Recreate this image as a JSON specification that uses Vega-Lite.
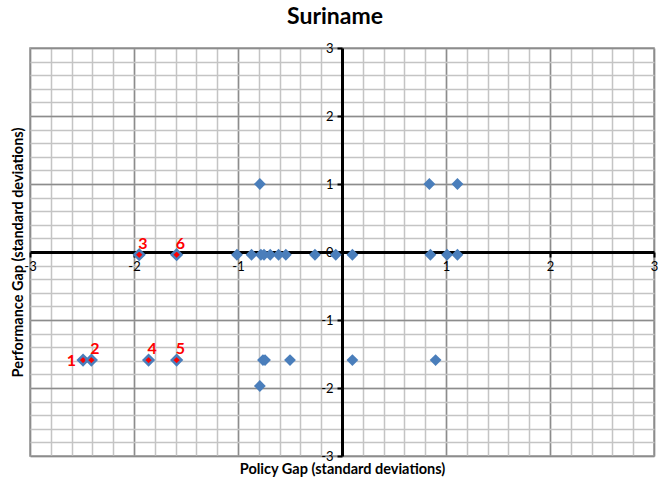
{
  "$schema": "https://vega.github.io/schema/vega-lite/v6.json",
  "width": 624,
  "height": 408,
  "autosize": {"type": "none"},
  "padding": {"left": 30, "top": 48, "right": 14, "bottom": 26},
  "background": "white",
  "title": {"text": "Suriname", "fontSize": 23, "font": "Lato", "fontWeight": "bold", "color": "black", "anchor": "middle", "offset": 13, "dx": -7},
  "config": {
    "view": {"stroke": "#8a8a8a", "strokeWidth": 1.5},
    "axis": {"labelFont": "Lato", "titleFont": "Lato"}
  },
  "data": {
    "values": [
      {"policy": -2.49, "performance": -1.59, "label": "1"},
      {"policy": -2.41, "performance": -1.59, "label": "2"},
      {"policy": -1.95, "performance": -0.04, "label": "3"},
      {"policy": -1.86, "performance": -1.59, "label": "4"},
      {"policy": -1.59, "performance": -1.59, "label": "5"},
      {"policy": -1.59, "performance": -0.04, "label": "6"},
      {"policy": -0.79, "performance": 1.0, "label": ""},
      {"policy": 0.84, "performance": 1.0, "label": ""},
      {"policy": 1.11, "performance": 1.0, "label": ""},
      {"policy": -1.01, "performance": -0.04, "label": ""},
      {"policy": -0.87, "performance": -0.04, "label": ""},
      {"policy": -0.78, "performance": -0.04, "label": ""},
      {"policy": -0.75, "performance": -0.04, "label": ""},
      {"policy": -0.69, "performance": -0.04, "label": ""},
      {"policy": -0.61, "performance": -0.04, "label": ""},
      {"policy": -0.54, "performance": -0.04, "label": ""},
      {"policy": -0.26, "performance": -0.04, "label": ""},
      {"policy": -0.06, "performance": -0.04, "label": ""},
      {"policy": 0.1, "performance": -0.04, "label": ""},
      {"policy": 0.85, "performance": -0.04, "label": ""},
      {"policy": 1.01, "performance": -0.04, "label": ""},
      {"policy": 1.11, "performance": -0.04, "label": ""},
      {"policy": -0.76, "performance": -1.59, "label": ""},
      {"policy": -0.74, "performance": -1.59, "label": ""},
      {"policy": -0.5, "performance": -1.59, "label": ""},
      {"policy": 0.1, "performance": -1.59, "label": ""},
      {"policy": 0.9, "performance": -1.59, "label": ""},
      {"policy": -0.79, "performance": -1.97, "label": ""}
    ]
  },
  "layer": [
    {
      "transform": [{"filter": "datum.label == ''"}],
      "mark": {"type": "point", "shape": "diamond", "filled": true, "color": "#4a7ebb", "opacity": 1, "size": 140},
      "encoding": {
        "x": {"field": "policy", "type": "quantitative", "scale": {"domain": [-3, 3], "nice": false, "zero": false},
          "axis": {"orient": "bottom", "title": "Policy Gap (standard deviations)", "titleFontSize": 14.5, "titleFontWeight": "bold", "titleColor": "black", "titlePadding": 6,
            "values": [-3,-2.8,-2.6,-2.4,-2.2,-2,-1.8,-1.6,-1.4,-1.2,-1,-0.8,-0.6,-0.4,-0.2,0,0.2,0.4,0.6,0.8,1,1.2,1.4,1.6,1.8,2,2.2,2.4,2.6,2.8,3],
            "labels": false, "ticks": false, "domain": false, "grid": true, "gridColor": "#c4c4c4", "gridWidth": 1.5, "gridOpacity": 1}},
        "y": {"field": "performance", "type": "quantitative", "scale": {"domain": [-3, 3], "nice": false, "zero": false},
          "axis": {"orient": "left", "title": "Performance Gap (standard deviations)", "titleFontSize": 14.5, "titleFontWeight": "bold", "titleColor": "black", "titlePadding": 5,
            "values": [-3,-2.8,-2.6,-2.4,-2.2,-2,-1.8,-1.6,-1.4,-1.2,-1,-0.8,-0.6,-0.4,-0.2,0,0.2,0.4,0.6,0.8,1,1.2,1.4,1.6,1.8,2,2.2,2.4,2.6,2.8,3],
            "labels": false, "ticks": false, "domain": false, "grid": true, "gridColor": "#c4c4c4", "gridWidth": 1.5, "gridOpacity": 1}}
      }
    },
    {
      "transform": [{"filter": "datum.label != ''"}],
      "mark": {"type": "point", "shape": "diamond", "filled": true, "fill": "#ff0000", "stroke": "#4a7ebb", "strokeWidth": 2.5, "opacity": 1, "fillOpacity": 1, "size": 95},
      "encoding": {
        "x": {"field": "policy", "type": "quantitative",
          "axis": {"orient": "bottom", "offset": -204, "title": null, "values": [-3,-2,-1,0,1,2,3],
            "labelExpr": "datum.value == 0 ? '' : replace(datum.label, '−', '-')",
            "labelFontSize": 13, "labelColor": "black", "labelPadding": 3, "labelFlush": false, "labelOverlap": false,
            "domain": true, "domainColor": "black", "domainWidth": 3, "ticks": true, "tickColor": "black", "tickWidth": 2, "tickSize": 5,
            "grid": true, "gridColor": "#8c8c8c", "gridWidth": 1.5, "gridOpacity": 1}},
        "y": {"field": "performance", "type": "quantitative",
          "axis": {"orient": "left", "offset": -312, "title": null, "values": [-3,-2,-1,0,1,2,3],
            "labelExpr": "replace(datum.label, '−', '-')",
            "labelFontSize": 13, "labelColor": "black", "labelPadding": 4, "labelFlush": false, "labelOverlap": false,
            "domain": true, "domainColor": "black", "domainWidth": 3, "ticks": true, "tickColor": "black", "tickWidth": 2, "tickSize": 5,
            "grid": true, "gridColor": "#8c8c8c", "gridWidth": 1.5, "gridOpacity": 1}}
      }
    },
    {
      "transform": [{"filter": "datum.label == '1'"}],
      "mark": {"type": "text", "color": "#ff0000", "fontWeight": "bold", "fontSize": 16, "font": "Lato", "align": "right", "baseline": "middle", "dx": -7, "dy": 1},
      "encoding": {
        "x": {"field": "policy", "type": "quantitative", "axis": null},
        "y": {"field": "performance", "type": "quantitative", "axis": null},
        "text": {"field": "label"}
      }
    },
    {
      "transform": [{"filter": "datum.label != '' && datum.label != '1'"}],
      "mark": {"type": "text", "color": "#ff0000", "fontWeight": "bold", "fontSize": 16, "font": "Lato", "align": "left", "baseline": "bottom", "dx": -1, "dy": -3},
      "encoding": {
        "x": {"field": "policy", "type": "quantitative", "axis": null},
        "y": {"field": "performance", "type": "quantitative", "axis": null},
        "text": {"field": "label"}
      }
    }
  ],
  "resolve": {"axis": {"x": "independent", "y": "independent"}}
}
